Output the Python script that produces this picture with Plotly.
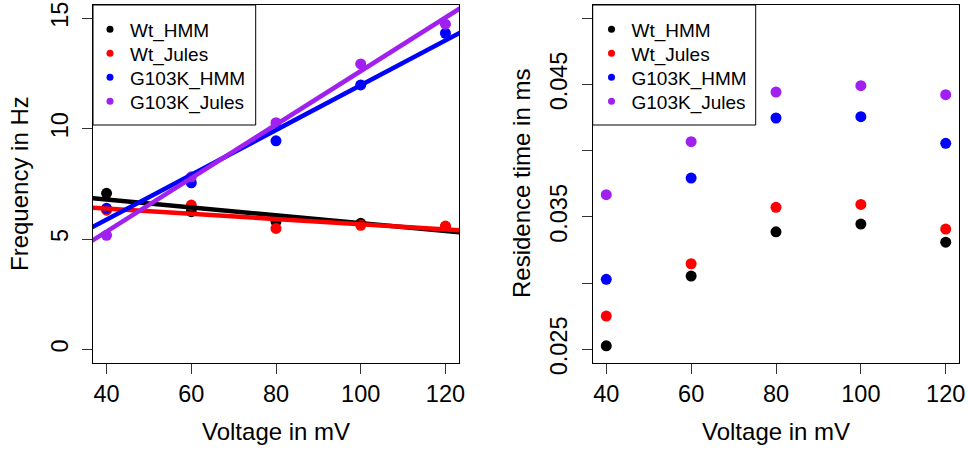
import numpy as np
import plotly.graph_objects as go

W, H = 968, 451

voltage = [40, 60, 80, 100, 120]
voltage_ticks = [40, 60, 80, 100, 120]
series_names = ["Wt_HMM", "Wt_Jules", "G103K_HMM", "G103K_Jules"]
series_colors = ["#000000", "#FF0000", "#0000FF", "#A020F0"]

freq_wt_hmm = [7.07, 6.24, 5.80, 5.71, 5.55]
freq_wt_jules = [6.31, 6.54, 5.48, 5.62, 5.59]
freq_g103k_hmm = [6.39, 7.55, 9.45, 11.98, 14.32]
freq_g103k_jules = [5.17, 7.82, 10.27, 12.93, 14.73]

res_wt_hmm = [0.02527, 0.03054, 0.03388, 0.03446, 0.03310]
res_wt_jules = [0.02752, 0.03147, 0.03573, 0.03595, 0.03409]
res_g103k_hmm = [0.03029, 0.03794, 0.04247, 0.04257, 0.04056]
res_g103k_jules = [0.03668, 0.04068, 0.04443, 0.04491, 0.04423]

freq_ticks = [0, 5, 10, 15]
res_ticks = [0.025, 0.030, 0.035, 0.040, 0.045, 0.050]
res_ticklabels = ["0.025", "", "0.035", "", "0.045", ""]

freq_series = [freq_wt_hmm, freq_wt_jules, freq_g103k_hmm, freq_g103k_jules]
res_series = [res_wt_hmm, res_wt_jules, res_g103k_hmm, res_g103k_jules]

FONT = "Liberation Sans, Arial, Helvetica, sans-serif"

def px_x(p):
    return p / W

def px_y(p):
    return 1 - p / H

fig = go.Figure()

# data points
for name, col, vals in zip(series_names, series_colors, freq_series):
    fig.add_trace(go.Scatter(x=voltage, y=vals, mode="markers", xaxis="x", yaxis="y",
                             marker=dict(color=col, size=11), showlegend=False))
for name, col, vals in zip(series_names, series_colors, res_series):
    fig.add_trace(go.Scatter(x=voltage, y=vals, mode="markers", xaxis="x2", yaxis="y2",
                             marker=dict(color=col, size=11), showlegend=False))

# regression lines (abline of lm) on the frequency panel
xline = np.array([30.0, 130.0])
for name, col, vals in zip(series_names, series_colors, freq_series):
    slope, intercept = np.polyfit(voltage, vals, 1)
    fig.add_trace(go.Scatter(x=xline, y=slope * xline + intercept, mode="lines",
                             xaxis="x", yaxis="y", line=dict(color=col, width=4.5),
                             showlegend=False, hoverinfo="skip"))

# legend entries: one legend per entry for exact row spacing
legend_layout = {}
row_y = [29.3, 53.3, 77.3, 101.3]
k = 1
for panel, (lx, xa, ya) in enumerate([(90, "x", "y"), (591.5, "x2", "y2")]):
    for i, (name, col) in enumerate(zip(series_names, series_colors)):
        key = "legend" if k == 1 else f"legend{k}"
        fig.add_trace(go.Scatter(x=[None], y=[None], mode="markers", name=name,
                                 xaxis=xa, yaxis=ya, marker=dict(color=col, size=7),
                                 legend=key))
        legend_layout[key] = dict(x=px_x(lx), y=px_y(row_y[i]), xanchor="left",
                                  yanchor="middle", bgcolor="rgba(0,0,0,0)",
                                  borderwidth=0, itemclick=False,
                                  font=dict(family=FONT, size=19, color="black"))
        k += 1

left_dom = [px_x(93), px_x(459)]
right_dom = [px_x(592.7), px_x(959.3)]
ydom = [px_y(362.7), px_y(5)]

axis_common = dict(showgrid=False, zeroline=False, showline=True, linecolor="black",
                   linewidth=1, mirror=True, ticks="outside", ticklen=10, tickwidth=1,
                   tickcolor="#333333", automargin=False,
                   tickfont=dict(family=FONT, size=23.5, color="black"))

fig.update_layout(
    width=W, height=H, margin=dict(l=0, r=0, t=0, b=0, autoexpand=False),
    paper_bgcolor="white", plot_bgcolor="white",
    xaxis=dict(domain=left_dom, range=[36.8, 123.2], tickvals=voltage_ticks,
               anchor="y", **axis_common),
    yaxis=dict(domain=ydom, range=[-0.6, 15.6], tickvals=freq_ticks, tickangle=-90,
               anchor="x", ticklabelstandoff=5, **axis_common),
    xaxis2=dict(domain=right_dom, range=[36.8, 123.2], tickvals=voltage_ticks,
                anchor="y2", **axis_common),
    yaxis2=dict(domain=ydom, range=[0.024, 0.051], tickvals=res_ticks,
                ticktext=res_ticklabels, tickangle=-90, anchor="x2",
                ticklabelstandoff=5, **axis_common),
    showlegend=True,
    **legend_layout,
)

# legend boxes
fig.add_shape(type="rect", xref="paper", yref="paper", x0=px_x(93), x1=px_x(255.7),
              y0=px_y(125), y1=px_y(5), line=dict(color="black", width=1))
fig.add_shape(type="rect", xref="paper", yref="paper", x0=px_x(592.7), x1=px_x(755.7),
              y0=px_y(125), y1=px_y(5), line=dict(color="black", width=1))

# axis titles
title_font = dict(family=FONT, size=24, color="black")
for xc in [(93 + 459) / 2, (592.7 + 959.3) / 2]:
    fig.add_annotation(text="Voltage in mV", xref="paper", yref="paper", x=px_x(xc),
                       y=px_y(431), xanchor="center", yanchor="middle", showarrow=False,
                       font=title_font)
fig.add_annotation(text="Frequency in Hz", xref="paper", yref="paper", x=px_x(19),
                   y=px_y(184), textangle=-90, xanchor="center", yanchor="middle",
                   showarrow=False, font=title_font)
fig.add_annotation(text="Residence time in ms", xref="paper", yref="paper", x=px_x(521),
                   y=px_y(184), textangle=-90, xanchor="center", yanchor="middle",
                   showarrow=False, font=title_font)

fig.write_html("out.html")
